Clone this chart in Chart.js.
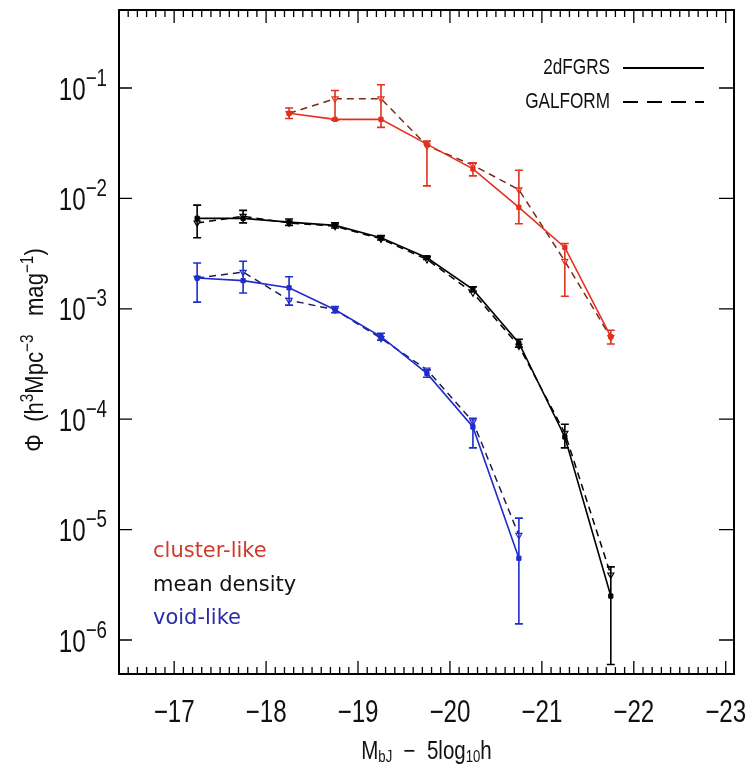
<!DOCTYPE html>
<html><head><meta charset="utf-8">
<script src="https://cdn.jsdelivr.net/npm/chart.js@4.4.1/dist/chart.umd.min.js"></script>
<style>html,body{margin:0;padding:0;background:#fff}#wrap{width:752px;height:780px}</style>
</head><body><div id="wrap"><canvas id="c" width="752" height="780"></canvas></div>
<script>
// ---------- data ----------
const meanMags     = [-17.25,-17.75,-18.25,-18.75,-19.25,-19.75,-20.25,-20.75,-21.25,-21.75];
const meanObs      = [6.6e-3, 6.6e-3, 6.1e-3, 5.7e-3, 4.4e-3, 2.9e-3, 1.5e-3, 4.9e-4, 6.9e-5, 2.5e-6];
const meanObsLow   = [4.4e-3, 6.0e-3, 5.7e-3, 5.4e-3, 4.2e-3, 2.8e-3, 1.42e-3, 4.5e-4, 5.5e-5, 6.0e-7];
const meanObsHigh  = [8.7e-3, 7.8e-3, 6.5e-3, 6.0e-3, 4.6e-3, 3.0e-3, 1.58e-3, 5.3e-4, 9.0e-5, 4.6e-6];
const meanModel    = [6.0e-3, 6.9e-3, 6.0e-3, 5.6e-3, 4.3e-3, 2.8e-3, 1.4e-3, 4.6e-4, 7.5e-5, 3.9e-6];

const clusterMags    = [-18.25,-18.75,-19.25,-19.75,-20.25,-20.75,-21.25,-21.75];
const clusterObs     = [5.9e-2, 5.2e-2, 5.2e-2, 3.1e-2, 1.85e-2, 8.3e-3, 3.6e-3, 5.6e-4];
const clusterObsLow  = [5.3e-2, 5.1e-2, 4.4e-2, 1.3e-2, 1.6e-2, 5.9e-3, 1.3e-3, 4.8e-4];
const clusterObsHigh = [6.6e-2, 9.5e-2, 1.07e-1, 3.3e-2, 2.1e-2, 1.8e-2, 3.9e-3, 6.4e-4];
const clusterModel   = [5.9e-2, 8.0e-2, 8.0e-2, 3.0e-2, 2.0e-2, 1.2e-2, 2.7e-3, 5.5e-4];

const voidMags    = [-17.25,-17.75,-18.25,-18.75,-19.25,-19.75,-20.25,-20.75];
const voidObs     = [1.9e-3, 1.8e-3, 1.55e-3, 9.8e-4, 5.6e-4, 2.6e-4, 8.5e-5, 5.5e-6];
const voidObsLow  = [1.15e-3, 1.39e-3, 1.08e-3, 9.2e-4, 5.2e-4, 2.4e-4, 5.5e-5, 1.4e-6];
const voidObsHigh = [2.6e-3, 2.7e-3, 1.95e-3, 1.05e-3, 6.0e-4, 2.8e-4, 1.02e-4, 1.27e-5];
const voidModel   = [1.9e-3, 2.15e-3, 1.2e-3, 9.8e-4, 5.4e-4, 2.8e-4, 9.5e-5, 8.9e-6];

const xTickValues    = [-17,-18,-19,-20,-21,-22,-23];
const yTickExponents = [-1,-2,-3,-4,-5,-6];
const legendLabels   = ['2dFGRS','GALFORM'];
const sampleLabels   = ['cluster-like','mean density','void-like'];

// ---------- styles ----------
const RED = '#e2311f', RED_D = '#7c2a1c', BLUE = '#1f2ccc', BLUE_D = '#1c1c55', BLACK = '#000';
const FONT = "'Liberation Sans',Arial,sans-serif";
const SX = 0.78; // horizontal condensing of the narrow plot font

const pts = (xs, ys) => xs.map((x, i) => ({x: x, y: ys[i]}));
function obsSet(label, xs, ys, color){
  return {label, data: pts(xs, ys), showLine: true, borderColor: color, backgroundColor: color,
    borderWidth: 1.6, pointStyle: 'rect', pointRadius: 3, pointBorderWidth: 1, tension: 0};
}
function modSet(label, xs, ys, color, mcolor){
  return {label, data: pts(xs, ys), showLine: true, borderColor: color, backgroundColor: '#fff',
    borderWidth: 1.5, borderDash: [7,5], pointStyle: 'triangle', rotation: 180, pointRadius: 3.5,
    pointBorderColor: mcolor, pointBorderWidth: 1.2, tension: 0};
}

const errGroups = [
  {xs: clusterMags, lo: clusterObsLow, hi: clusterObsHigh, color: RED},
  {xs: meanMags, lo: meanObsLow, hi: meanObsHigh, color: BLACK},
  {xs: voidMags, lo: voidObsLow, hi: voidObsHigh, color: BLUE}
];

// draw a run of text pieces (with sizes / vertical shifts), horizontally condensed
function drawRich(ctx, parts, x, y, align, sx){
  let total = 0;
  parts.forEach(p => { ctx.font = p.size + 'px ' + FONT; p.w = ctx.measureText(p.t).width * sx; total += p.w; });
  let cx = align === 'center' ? x - total/2 : (align === 'right' ? x - total : x);
  parts.forEach(p => {
    ctx.save();
    ctx.font = p.size + 'px ' + FONT;
    ctx.textAlign = 'left';
    ctx.translate(cx, y + p.dy);
    ctx.scale(sx, 1);
    ctx.fillText(p.t, 0, 0);
    ctx.restore();
    cx += p.w;
  });
}

const decor = {
  id: 'decor',
  afterDatasetsDraw(chart){
    const ctx = chart.ctx, xs = chart.scales.x, ys = chart.scales.y, a = chart.chartArea;
    ctx.save();
    ctx.beginPath(); ctx.rect(a.left, a.top, a.right - a.left, a.bottom - a.top); ctx.clip();
    ctx.lineWidth = 1.6;
    errGroups.forEach(g => {
      ctx.strokeStyle = g.color;
      g.xs.forEach((m, i) => {
        const px = xs.getPixelForValue(m), y1 = ys.getPixelForValue(g.lo[i]), y2 = ys.getPixelForValue(g.hi[i]);
        ctx.beginPath();
        ctx.moveTo(px, y1); ctx.lineTo(px, y2);
        ctx.moveTo(px - 4, y1); ctx.lineTo(px + 4, y1);
        ctx.moveTo(px - 4, y2); ctx.lineTo(px + 4, y2);
        ctx.stroke();
      });
    });
    ctx.restore();
  },
  afterDraw(chart){
    const ctx = chart.ctx, xs = chart.scales.x, ys = chart.scales.y, a = chart.chartArea;
    ctx.save();
    // frame
    ctx.strokeStyle = '#000'; ctx.lineWidth = 2;
    ctx.strokeRect(a.left, a.top, a.right - a.left, a.bottom - a.top);
    // x ticks (inside, top and bottom)
    ctx.lineWidth = 1.3;
    ctx.beginPath();
    for (let k = -165; k >= -230; k--) {
      const v = k / 10;
      const px = xs.getPixelForValue(v);
      if (px <= a.left + 2 || px >= a.right - 2) continue;
      const len = (k % 10 === 0) ? 13 : 7;
      ctx.moveTo(px, a.bottom); ctx.lineTo(px, a.bottom - len);
      ctx.moveTo(px, a.top); ctx.lineTo(px, a.top + len);
    }
    // y ticks (decades, inside, left and right)
    yTickExponents.forEach(e => {
      const py = ys.getPixelForValue(Math.pow(10, e));
      ctx.moveTo(a.left, py); ctx.lineTo(a.left + 13, py);
      ctx.moveTo(a.right, py); ctx.lineTo(a.right - 15, py);
    });
    ctx.stroke();

    ctx.fillStyle = '#111'; ctx.textBaseline = 'middle';
    // x tick labels
    xTickValues.forEach(v => {
      drawRich(ctx, [{t: '\u2212' + Math.abs(v), size: 31, dy: 0}], xs.getPixelForValue(v), 713, 'center', SX);
    });
    // y tick labels 10^e
    yTickExponents.forEach(e => {
      const py = ys.getPixelForValue(Math.pow(10, e));
      drawRich(ctx, [{t: '10', size: 31, dy: 3}, {t: '\u2212' + Math.abs(e), size: 24, dy: -9}], 107, py, 'right', SX);
    });

    // y axis title (rotated)
    ctx.save();
    ctx.translate(36, 350);
    ctx.rotate(-Math.PI / 2);
    drawRich(ctx, [
      {t: '\u03a6  (h', size: 26, dy: 0}, {t: '3', size: 18, dy: -8},
      {t: 'Mpc', size: 26, dy: 0}, {t: '\u22123', size: 18, dy: -8},
      {t: '   mag', size: 26, dy: 0}, {t: '\u22121', size: 18, dy: -8},
      {t: ')', size: 26, dy: 0}
    ], 0, 0, 'center', 0.85);
    ctx.restore();

    // x axis title
    drawRich(ctx, [
      {t: 'M', size: 25, dy: 0}, {t: 'bJ', size: 16, dy: 6},
      {t: '  \u2212  5log', size: 25, dy: 0}, {t: '10', size: 16, dy: 6},
      {t: 'h', size: 25, dy: 0}
    ], (a.left + a.right) / 2, 752, 'center', 0.82);

    // legend (top right)
    drawRich(ctx, [{t: legendLabels[0], size: 22, dy: 0}], 610, 68, 'right', SX);
    drawRich(ctx, [{t: legendLabels[1], size: 22, dy: 0}], 610, 102, 'right', SX);
    ctx.strokeStyle = '#000'; ctx.lineWidth = 1.8;
    ctx.beginPath(); ctx.moveTo(623, 68); ctx.lineTo(704, 68); ctx.stroke();
    ctx.setLineDash([15, 9]);
    ctx.beginPath(); ctx.moveTo(623, 102); ctx.lineTo(704, 102); ctx.stroke();
    ctx.setLineDash([]);

    // sample labels (bottom left)
    ctx.font = "21px 'DejaVu Sans', sans-serif"; ctx.textBaseline = 'alphabetic'; ctx.textAlign = 'left';
    const cols = ['#cf3a2a', '#111', '#2a2aa8'];
    const base = [557, 591, 624];
    sampleLabels.forEach((s, i) => { ctx.fillStyle = cols[i]; ctx.fillText(s, 153, base[i]); });
    ctx.restore();
  }
};

new Chart(document.getElementById('c'), {
  type: 'scatter',
  data: {
    datasets: [
      obsSet('cluster-like 2dFGRS', clusterMags, clusterObs, RED),
      modSet('cluster-like GALFORM', clusterMags, clusterModel, RED_D, RED),
      obsSet('mean density 2dFGRS', meanMags, meanObs, BLACK),
      modSet('mean density GALFORM', meanMags, meanModel, BLACK, BLACK),
      obsSet('void-like 2dFGRS', voidMags, voidObs, BLUE),
      modSet('void-like GALFORM', voidMags, voidModel, BLUE_D, BLUE)
    ]
  },
  options: {
    responsive: false, animation: false, devicePixelRatio: 1,
    layout: {padding: {left: 0, right: 18, top: 10, bottom: 0}},
    plugins: {legend: {display: false}, tooltip: {enabled: false}},
    scales: {
      x: {
        type: 'linear', reverse: true, min: -23.09, max: -16.40, bounds: 'data',
        grid: {display: false, drawTicks: false}, border: {display: false},
        afterBuildTicks: s => { s.ticks = xTickValues.map(v => ({value: v})); },
        afterFit: s => { s.height = 106; s.paddingLeft = 0; s.paddingRight = 0; },
        ticks: {display: false}
      },
      y: {
        type: 'logarithmic', min: 4.92e-7, max: 0.509, bounds: 'data',
        grid: {display: false, drawTicks: false}, border: {display: false},
        ticks: {display: false},
        afterFit: s => { s.width = 119; }
      }
    }
  },
  plugins: [decor]
});
</script>
</body></html>
